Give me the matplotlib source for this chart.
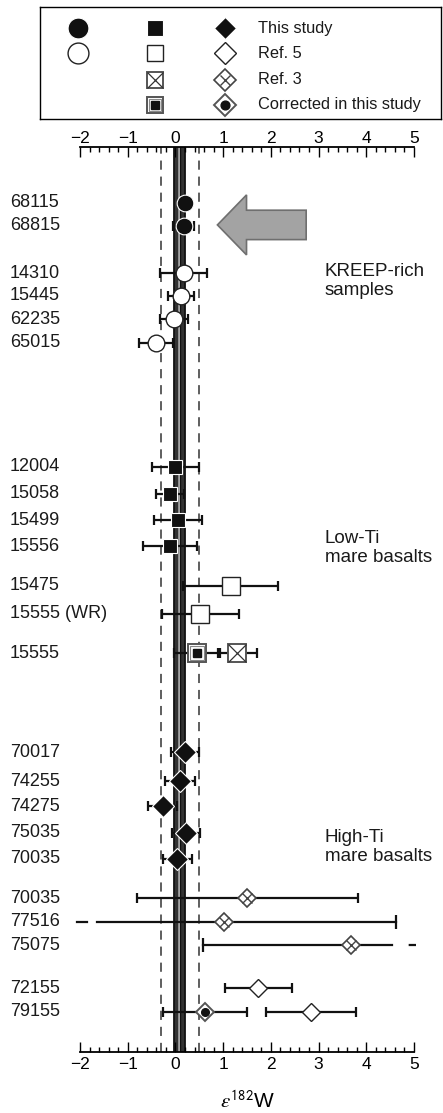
import matplotlib
matplotlib.use('Agg')
import matplotlib.pyplot as plt
import matplotlib.patches as mpatches
import matplotlib.transforms as mtransforms
from matplotlib.ticker import MultipleLocator

plt.rcParams['font.family'] = ['Liberation Sans', 'DejaVu Sans']
plt.rcParams['mathtext.fontset'] = 'stix'

# Sample labels, top to bottom
row_labels = ['68115', '68815', '14310', '15445', '62235', '65015',
              '12004', '15058', '15499', '15556', '15475', '15555 (WR)', '15555',
              '70017', '74255', '74275', '75035', '70035',
              '70035', '77516', '75075', '72155', '79155']

# eps182W values: row index, value, 2 s.d., kind
pt_row = [0, 1, 2, 3, 4, 5, 6, 7, 8, 9, 10, 11, 12, 12,
          13, 14, 15, 16, 17, 18, 19, 20, 21, 22, 22]
pt_val = [0.20, 0.17, 0.17, 0.11, -0.03, -0.41, 0.00, -0.11, 0.06, -0.11, 1.16, 0.52, 0.46, 1.30,
          0.20, 0.10, -0.27, 0.22, 0.04, 1.51, 1.01, 3.69, 1.74, 0.62, 2.84]
pt_err = [0.12, 0.22, 0.50, 0.27, 0.30, 0.35, 0.50, 0.30, 0.50, 0.57, 1.00, 0.81, 0.48, 0.40,
          0.30, 0.31, 0.30, 0.30, 0.31, 2.31, 3.61, 3.12, 0.71, 0.89, 0.94]
pt_kind = ['this_circle', 'this_circle', 'ref5_circle', 'ref5_circle', 'ref5_circle', 'ref5_circle',
           'this_square', 'this_square', 'this_square', 'this_square', 'ref5_square', 'ref5_square',
           'corr_square', 'ref3_square',
           'this_diamond', 'this_diamond', 'this_diamond', 'this_diamond', 'this_diamond',
           'ref3_diamond', 'ref3_diamond', 'ref3_diamond', 'ref5_diamond', 'corr_diamond', 'ref5_diamond']

# mean of this study and its 2 s.d. band
mean_val = 0.09
mean_band = 0.4

groups = ['KREEP-rich\nsamples', 'Low-Ti\nmare basalts', 'High-Ti\nmare basalts']

legend_labels = ['This study', 'Ref. 5', 'Ref. 3', 'Corrected in this study']

# ---- layout (row positions in axis units, pixel/24.5) ----
row_pos = [2.27, 3.21, 5.16, 6.07, 7.03, 7.99,
           13.05, 14.15, 15.24, 16.30, 17.90, 19.05, 20.67,
           24.71, 25.89, 26.91, 28.00, 29.06,
           30.66, 31.62, 32.58, 34.33, 35.29]
group_pos = [5.47, 16.36, 28.57]
# off-scale bars: point index -> (side, break at, dashed end, dash style)
broken = {20: ('left', -1.65, -2.26, (5.5, (5.5, 4))),
          21: ('right', 4.53, 5.05, (11, (11, 7.5)))}

W, H = 443, 1113
fig = plt.figure(figsize=(W / 100, H / 100), dpi=100)
ax = fig.add_axes([80 / W, 1 - 1052 / H, 334 / W, 905 / H])
ax.set_xlim(-2, 5)
ax.set_ylim(36.94, 0)


def draw_marker(a, x, y, kind, scale=1.0, z=6):
    kw = dict(linestyle='none', zorder=z, clip_on=False)
    if kind == 'this_circle':
        a.plot(x, y, 'o', ms=12 * scale, mfc='#111111', mec='white', mew=0.8, **kw)
    elif kind == 'ref5_circle':
        a.plot(x, y, 'o', ms=12 * scale, mfc='white', mec='#222222', mew=1.0, **kw)
    elif kind == 'this_square':
        a.plot(x, y, 's', ms=10 * scale, mfc='#111111', mec='white', mew=0.8, **kw)
    elif kind == 'ref5_square':
        a.plot(x, y, 's', ms=12.5 * scale, mfc='white', mec='#222222', mew=1.0, **kw)
    elif kind == 'ref3_square':
        a.plot(x, y, 's', ms=12.5 * scale, mfc='white', mec='#555555', mew=1.4, **kw)
        a.plot(x, y, 'x', ms=12.5 * scale, mec='#333333', mew=0.9, zorder=z + 1, linestyle='none', clip_on=False)
    elif kind == 'corr_square':
        a.plot(x, y, 's', ms=12.5 * scale, mfc='white', mec='#555555', mew=1.4, **kw)
        a.plot(x, y, 's', ms=9.5 * scale, mfc='none', mec='#888888', mew=0.8, zorder=z + 1, linestyle='none', clip_on=False)
        a.plot(x, y, 's', ms=6 * scale, mfc='#111111', mec='#111111', zorder=z + 2, linestyle='none', clip_on=False)
    elif kind == 'this_diamond':
        a.plot(x, y, 'D', ms=11 * scale, mfc='#111111', mec='white', mew=0.8, **kw)
    elif kind == 'ref5_diamond':
        a.plot(x, y, 'D', ms=9.5 * scale, mfc='white', mec='#222222', mew=1.0, **kw)
    elif kind == 'ref3_diamond':
        a.plot(x, y, 'D', ms=9.5 * scale, mfc='white', mec='#444444', mew=1.2, **kw)
        a.plot(x, y, 'x', ms=9.5 * 0.707 * scale, mec='#444444', mew=1.0, zorder=z + 1, linestyle='none', clip_on=False)
    elif kind == 'corr_diamond':
        a.plot(x, y, 'D', ms=9.5 * scale, mfc='white', mec='#555555', mew=1.4, **kw)
        a.plot(x, y, 'o', ms=5.5 * scale, mfc='#111111', mec='#111111', zorder=z + 2, linestyle='none', clip_on=False)


# central band and dashed 2sd lines
ax.axvspan(mean_val - 0.11, mean_val + 0.11, facecolor='#333333', edgecolor='#e0e0e0',
           hatch='||', linewidth=0, zorder=1)
ax.axvline(mean_val - 0.11, color='#111111', lw=1.3, zorder=1.5)
ax.axvline(mean_val + 0.11, color='#111111', lw=1.3, zorder=1.5)
ax.axvline(mean_val, color='#111111', lw=1.0, zorder=1.5)
for xv in (mean_val - mean_band, mean_val + mean_band):
    ax.axvline(xv, color='#333333', lw=1.1, linestyle=(0, (6, 4.5)), zorder=1)

# error bars
for i in range(len(pt_val)):
    y = row_pos[pt_row[i]]
    v, e = pt_val[i], pt_err[i]
    if i in broken:
        side, brk, dend, dstyle = broken[i]
        if side == 'left':
            ax.plot([brk, v + e], [y, y], color='#111111', lw=1.6, zorder=3)
            ax.plot([v + e], [y], marker='|', ms=10, mew=1.6, color='#111111', zorder=3)
        else:
            ax.plot([v - e, brk], [y, y], color='#111111', lw=1.6, zorder=3)
            ax.plot([v - e], [y], marker='|', ms=10, mew=1.6, color='#111111', zorder=3)
        ax.plot([brk, dend], [y, y], color='#111111', lw=1.6, linestyle=dstyle,
                zorder=3, clip_on=False, solid_capstyle='butt', dash_capstyle='butt')
    else:
        ax.errorbar(v, y, xerr=e, fmt='none', ecolor='#111111', elinewidth=1.6,
                    capsize=3.6, capthick=1.6, zorder=3)

for i in range(len(pt_val)):
    draw_marker(ax, pt_val[i], row_pos[pt_row[i]], pt_kind[i])

# arrow pointing at this study's KREEP samples
arrow = mpatches.FancyArrow(2.74, 3.18, -1.86, 0, width=1.2, head_width=2.45,
                            head_length=0.61, length_includes_head=True,
                            facecolor='#a3a3a3', edgecolor='#6f6f6f', lw=1.2, zorder=4)
ax.add_patch(arrow)

# labels
trans = mtransforms.blended_transform_factory(fig.transFigure, ax.transData)
for lab, yp in zip(row_labels, row_pos):
    ax.text(10 / W, yp, lab, transform=trans, ha='left', va='center', fontsize=13, color='#1a1a1a')
for g, yp in zip(groups, group_pos):
    ax.text(325 / W, yp, g, transform=trans, ha='left', va='center', fontsize=13.5,
            color='#1a1a1a', linespacing=1.15)

# axes styling: bottom axis on ax, top axis on a twin
ax2 = ax.twiny()
ax2.set_xlim(ax.get_xlim())
for a in (ax, ax2):
    for s in ('left', 'right'):
        a.spines[s].set_visible(False)
    a.set_yticks([])
    a.xaxis.set_major_locator(MultipleLocator(1))
    a.xaxis.set_minor_locator(MultipleLocator(0.2))
ax.spines['bottom'].set_linewidth(1.3)
ax.spines['top'].set_visible(False)
ax2.spines['top'].set_linewidth(1.3)
ax2.spines['bottom'].set_visible(False)
ax.tick_params(axis='x', which='both', direction='in', top=False, bottom=True,
               labeltop=False, labelbottom=True, labelsize=12.5, width=1.0)
ax.tick_params(axis='x', which='major', length=7.5, pad=3.5)
ax.tick_params(axis='x', which='minor', length=3.5)
ax2.tick_params(axis='x', which='both', direction='in', top=True, bottom=False,
                labeltop=True, labelbottom=False, labelsize=12.5, width=1.0)
ax2.tick_params(axis='x', which='major', length=7.5, pad=0.5)
ax2.tick_params(axis='x', which='minor', length=3.5)
ax.set_xlabel(r'$\mathit{\varepsilon}^{\mathsf{182}}$W', fontsize=15, labelpad=13)

# legend panel
lax = fig.add_axes([40 / W, 1 - 119 / H, 401 / W, 112 / H])
lax.set_xlim(40, 441)
lax.set_ylim(119, 7)
lax.set_xticks([])
lax.set_yticks([])
for s in lax.spines.values():
    s.set_linewidth(1.0)
leg_rows = [28, 53, 80, 105]
leg_cols = [78, 155, 225]
leg_grid = [['this_circle', 'this_square', 'this_diamond'],
            ['ref5_circle', 'ref5_square', 'ref5_diamond'],
            [None, 'ref3_square', 'ref3_diamond'],
            [None, 'corr_square', 'corr_diamond']]
for r, yy in enumerate(leg_rows):
    for c, xx in enumerate(leg_cols):
        k = leg_grid[r][c]
        if k is None:
            continue
        if 'circle' in k:
            sc = 1.25
        elif k == 'this_square':
            sc = 1.15
        elif 'square' in k:
            sc = 0.95
        else:
            sc = 1.15 if r > 0 else 1.0
        draw_marker(lax, xx, yy, k, scale=sc)
    lax.text(258, yy, legend_labels[r], ha='left', va='center', fontsize=11.8, color='#1a1a1a')

fig.savefig('out.png', dpi=100)
